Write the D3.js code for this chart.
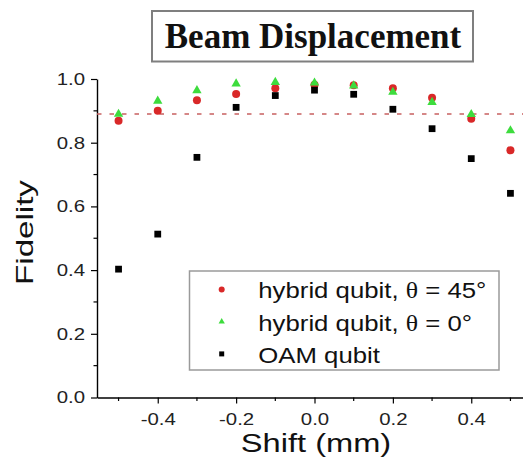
<!DOCTYPE html>
<html>
<head>
<meta charset="utf-8">
<script src="https://cdn.jsdelivr.net/npm/d3@7"></script>
<style>
  body { margin: 0; background: #fff; }
  svg { display: block; }
</style>
</head>
<body>
<svg id="chart"></svg>
<script>
// data
var shifts = [-0.5, -0.4, -0.3, -0.2, -0.1, 0.0, 0.1, 0.2, 0.3, 0.4, 0.5];
var hybrid45 = [0.869, 0.900, 0.933, 0.953, 0.971, 0.982, 0.980, 0.971, 0.941, 0.875, 0.776];
var hybrid0 = [0.890, 0.931, 0.964, 0.985, 0.990, 0.988, 0.979, 0.959, 0.927, 0.889, 0.838];
var oam = [0.403, 0.513, 0.754, 0.911, 0.948, 0.965, 0.952, 0.905, 0.844, 0.750, 0.641];
var threshold = 0.89;

var xTicks = [-0.4, -0.2, 0.0, 0.2, 0.4];
var xMinor = [-0.5, -0.3, -0.1, 0.1, 0.3, 0.5];
var yTicks = [0.0, 0.2, 0.4, 0.6, 0.8, 1.0];
var yMinor = [0.1, 0.3, 0.5, 0.7, 0.9];

var legendLabels = ["hybrid qubit, ", "hybrid qubit, ", "OAM qubit"];
var legendTheta = [" = 45°", " = 0°", null];

var title = "Beam Displacement";
var xTitle = "Shift (mm)";
var yTitle = "Fidelity";

var width = 523;
var height = 464;

var red = "#d92828";
var green = "#3ddc3d";

var svg = d3.select("#chart")
  .attr("width", width)
  .attr("height", height)
  .style("font-family", "'Liberation Sans', Arial, sans-serif");

var x = d3.scaleLinear().domain([-0.555, 0.555]).range([97, 532]);
var y = d3.scaleLinear().domain([0, 1]).range([397.5, 79]);

var fmt = function (d) { return d.toFixed(1); };

// x axis
var gx = svg.append("g").attr("transform", "translate(0," + y(0) + ")");
gx.call(d3.axisBottom(x).tickValues(xTicks).tickSize(6).tickSizeOuter(0).tickFormat(fmt));
gx.selectAll(".minor")
  .data(xMinor)
  .enter()
  .append("line")
  .attr("class", "minor")
  .attr("x1", function (d) { return x(d); })
  .attr("x2", function (d) { return x(d); })
  .attr("y1", 0)
  .attr("y2", 3.5)
  .attr("stroke", "#000")
  .attr("stroke-width", 1.2);

// y axis
var gy = svg.append("g").attr("transform", "translate(" + x.range()[0] + ",0)");
gy.call(d3.axisLeft(y).tickValues(yTicks).tickSize(6).tickSizeOuter(0).tickFormat(fmt));
gy.selectAll(".minor")
  .data(yMinor)
  .enter()
  .append("line")
  .attr("class", "minor")
  .attr("y1", function (d) { return y(d); })
  .attr("y2", function (d) { return y(d); })
  .attr("x1", 0)
  .attr("x2", -3.5)
  .attr("stroke", "#000")
  .attr("stroke-width", 1.2);

svg.selectAll(".domain").attr("stroke", "#000").attr("stroke-width", 1.4);
svg.selectAll(".tick line").attr("stroke", "#000").attr("stroke-width", 1.2);
svg.selectAll(".tick text")
  .attr("font-family", "'Liberation Sans', Arial, sans-serif")
  .attr("font-size", 17)
  .attr("fill", "#222");
gx.selectAll(".tick text")
  .attr("y", 15.5)
  .attr("transform", "scale(1.2,1)");
gy.selectAll(".tick text")
  .attr("x", -10)
  .attr("transform", "scale(1.2,1)");

// axis titles
svg.append("text")
  .attr("transform", "translate(316,452) scale(1.28,1)")
  .attr("text-anchor", "middle")
  .attr("font-size", 25.5)
  .attr("fill", "#111")
  .text(xTitle);

svg.append("text")
  .attr("transform", "translate(33,232.5) rotate(-90) scale(1.44,1)")
  .attr("text-anchor", "middle")
  .attr("font-size", 23)
  .attr("fill", "#111")
  .text(yTitle);

// threshold line
svg.append("line")
  .attr("x1", x.range()[0])
  .attr("x2", width)
  .attr("y1", y(threshold))
  .attr("y2", y(threshold))
  .attr("stroke", "#c86060")
  .attr("stroke-width", 1.6)
  .attr("stroke-dasharray", "4.5,8");

// points
var tri = d3.symbol().type(d3.symbolTriangle).size(38);
var sq = d3.symbol().type(d3.symbolSquare).size(46);

svg.selectAll(".p45")
  .data(shifts)
  .enter()
  .append("circle")
  .attr("class", "p45")
  .attr("cx", function (d) { return x(d); })
  .attr("cy", function (d, i) { return y(hybrid45[i]); })
  .attr("r", 4)
  .attr("fill", red);

svg.selectAll(".p0")
  .data(shifts)
  .enter()
  .append("path")
  .attr("class", "p0")
  .attr("d", tri)
  .attr("transform", function (d, i) { return "translate(" + x(d) + "," + y(hybrid0[i]) + ")"; })
  .attr("fill", green);

svg.selectAll(".poam")
  .data(shifts)
  .enter()
  .append("path")
  .attr("class", "poam")
  .attr("d", sq)
  .attr("transform", function (d, i) { return "translate(" + x(d) + "," + y(oam[i]) + ")"; })
  .attr("fill", "#000");

// legend
svg.append("rect")
  .attr("x", 189.5)
  .attr("y", 271)
  .attr("width", 309.5)
  .attr("height", 99)
  .attr("fill", "#fff")
  .attr("stroke", "#9a9a9a")
  .attr("stroke-width", 1.5);

var legende = svg.selectAll(".legend")
  .data(legendLabels)
  .enter()
  .append("g")
  .attr("class", "legend")
  .attr("transform", function (d, i) { return "translate(0," + (i * 32.2) + ")"; });

legende.each(function (d, i) {
  var g = d3.select(this);
  if (i === 0) {
    g.append("circle").attr("cx", 221.7).attr("cy", 289.5).attr("r", 3).attr("fill", red);
  } else if (i === 1) {
    g.append("path").attr("d", d3.symbol().type(d3.symbolTriangle).size(17))
      .attr("transform", "translate(221.7,289.5)").attr("fill", green);
  } else {
    g.append("path").attr("d", d3.symbol().type(d3.symbolSquare).size(25))
      .attr("transform", "translate(221.7,289.5)").attr("fill", "#000");
  }
  var t = g.append("text")
    .attr("transform", "translate(258.3,298.3) scale(1.12,1)")
    .attr("font-size", 23)
    .attr("fill", "#111")
    .text(d);
  if (legendTheta[i]) {
    t.append("tspan").attr("font-family", "'Liberation Serif', 'Times New Roman', serif").text("θ");
    t.append("tspan").text(legendTheta[i]);
  }
});

// title box
svg.append("rect")
  .attr("x", 152)
  .attr("y", 11)
  .attr("width", 321)
  .attr("height", 50.5)
  .attr("fill", "#fff")
  .attr("stroke", "#7f7f7f")
  .attr("stroke-width", 2);

svg.append("text")
  .attr("x", 313)
  .attr("y", 47.5)
  .attr("text-anchor", "middle")
  .attr("font-family", "'Liberation Serif', 'Times New Roman', serif")
  .attr("font-weight", "bold")
  .attr("font-size", 35)
  .attr("fill", "#111")
  .text(title);
</script>
</body>
</html>
